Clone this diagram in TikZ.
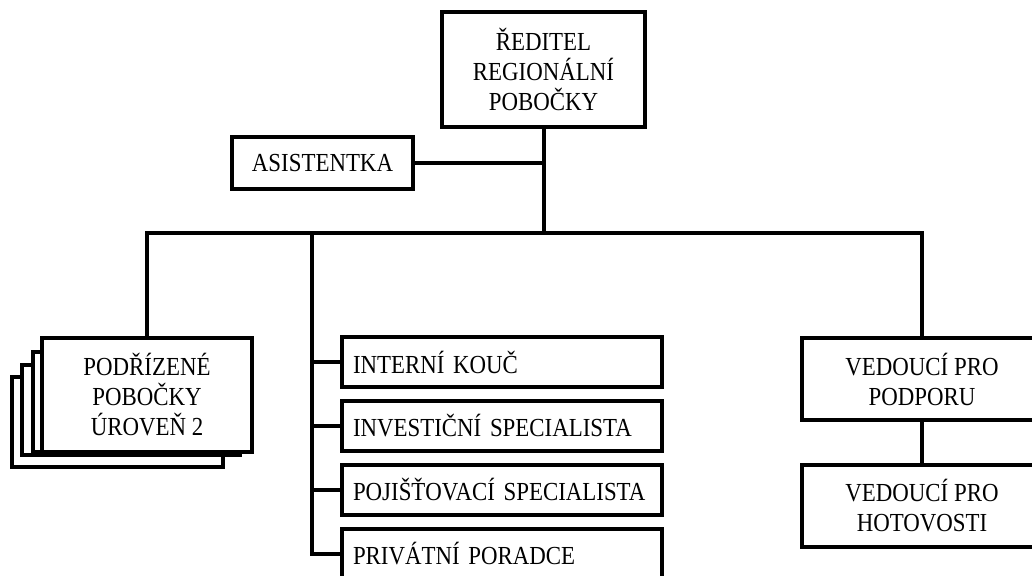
\documentclass[tikz,border=0pt]{standalone}
\usepackage{fontspec}
\newfontfamily\orgfont{Liberation Serif}[FakeStretch=0.88]
\usetikzlibrary{positioning}

\begin{document}
\begin{tikzpicture}[
  x=1pt,y=-1pt,
  node distance=9.5pt,
  box/.style={
    rectangle,
    draw=black,
    fill=white,
    line width=4.5pt,
    align=center,
    inner sep=0pt,
    font=\orgfont\fontsize{26}{30}\selectfont
  },
  listbox/.style={box,align=left,text width=298pt,inner xsep=11pt,minimum height=50pt},
  sidebox/.style={box,minimum width=240pt,minimum height=82pt},
  link/.style={line width=4pt,draw=black}
]
\clip (0,0) rectangle (1032,575);
\fill[white] (0,0) rectangle (1032,575);

% top
\node[box,minimum width=203pt,minimum height=115pt] (reditel) at (543.5,69.5) {ŘEDITEL\\REGIONÁLNÍ\\POBOČKY};
\node[box,minimum width=181pt,minimum height=52pt] (asist) at (322.5,163) {ASISTENTKA};

% left stack
\node[box,minimum width=211pt,minimum height=90pt] (stackC) at (117.5,422) {};
\node[box,minimum width=218pt,minimum height=90pt] (stackB) at (131,410) {};
\node[box,minimum width=212pt,minimum height=100pt] (stackA) at (139,402) {};
\node[box,minimum width=210pt,minimum height=114pt] (podriz) at (147,395) {PODŘÍZENÉ\\POBOČKY\\ÚROVEŇ 2};

% middle column
\node[listbox] (interni) at (502,362) {INTERNÍ KOUČ};
\node[listbox,below=of interni] (invest) {INVESTIČNÍ SPECIALISTA};
\node[listbox,below=of invest] (pojist) {POJIŠŤOVACÍ SPECIALISTA};
\node[listbox,below=of pojist] (privat) {PRIVÁTNÍ PORADCE};

% right column
\node[sidebox] (podpora) at (922,379) {VEDOUCÍ PRO\\PODPORU};
\node[sidebox] (hotovost) at (922,506) {VEDOUCÍ PRO\\HOTOVOSTI};

\coordinate (busM) at (312,233);
\coordinate (busR) at (922,233);

\draw[link] (reditel) -- (reditel |- busR);
\draw[link] (asist) -- (asist -| reditel);
\draw[link] (podriz.north) -- (podriz.north |- busR) -- (busR) -- (podpora.north);
\draw[link] (busM) |- (privat.west);
\foreach \n in {interni,invest,pojist}
  \draw[link] (busM |- \n.west) -- (\n.west);
\draw[link] (podpora) -- (hotovost);
\end{tikzpicture}
\end{document}
